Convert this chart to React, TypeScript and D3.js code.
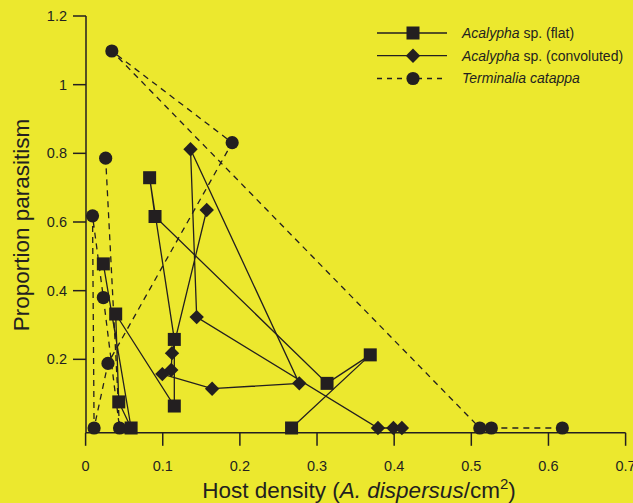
import React from "react";
import * as d3 from "d3";

// Acalypha sp. (flat) – squares, connected in this order
const flatX = [0.267, 0.369, 0.313, 0.090, 0.083, 0.115, 0.115, 0.039, 0.043, 0.059, 0.023];
const flatY = [0.0, 0.213, 0.130, 0.616, 0.729, 0.258, 0.064, 0.332, 0.076, 0.0, 0.478];

// Acalypha sp. (convoluted) – diamonds
const convX = [0.157, 0.112, 0.111, 0.0995, 0.164, 0.277, 0.136, 0.144, 0.379, 0.399, 0.410];
const convY = [0.635, 0.218, 0.169, 0.157, 0.1145, 0.130, 0.812, 0.323, 0.0, 0.0, 0.0];

// Terminalia catappa – circles, dashed
const termX = [0.618, 0.526, 0.511, 0.034, 0.190, 0.029, 0.011, 0.009, 0.023, 0.044, 0.026];
const termY = [0.0, 0.0, 0.0, 1.098, 0.831, 0.188, 0.0, 0.618, 0.380, 0.0, 0.786];

const xTicks = [0, 0.1, 0.2, 0.3, 0.4, 0.5, 0.6, 0.7];
const yTicks = [0.2, 0.4, 0.6, 0.8, 1.0, 1.2];

const W = 633;
const H = 503;
const BG = "#ece82e";
const INK = "#231f20";
const FONT = "'Liberation Sans', Arial, Helvetica, sans-serif";

const x = d3.scaleLinear().domain([0, 0.7]).range([85.6, 625.6]);
const y = d3.scaleLinear().domain([0, 1.2]).range([428, 16]);

const AXIS_Y = 432.8;
const AXIS_X = 86;

function pts(xs: number[], ys: number[]): [number, number][] {
  return xs.map((v, i) => [v, ys[i]] as [number, number]);
}

const line = d3
  .line<[number, number]>()
  .x((d) => x(d[0]))
  .y((d) => y(d[1]));

function Square({ cx, cy, s = 13 }: { cx: number; cy: number; s?: number }) {
  return <rect x={cx - s / 2} y={cy - s / 2} width={s} height={s} fill={INK} />;
}
function Diamond({ cx, cy, r = 7.2 }: { cx: number; cy: number; r?: number }) {
  return (
    <path
      d={`M${cx},${cy - r}L${cx + r},${cy}L${cx},${cy + r}L${cx - r},${cy}Z`}
      fill={INK}
    />
  );
}
function Dot({ cx, cy, r = 6.6 }: { cx: number; cy: number; r?: number }) {
  return <circle cx={cx} cy={cy} r={r} fill={INK} />;
}

export default function App() {
  const flat = pts(flatX, flatY);
  const conv = pts(convX, convY);
  const term = pts(termX, termY);

  const legendRows = [
    { y: 33, italic: "Acalypha", rest: " sp. (flat)", kind: "sq", dash: false },
    { y: 55.7, italic: "Acalypha", rest: " sp. (convoluted)", kind: "di", dash: false },
    { y: 78.5, italic: "Terminalia catappa", rest: "", kind: "ci", dash: true },
  ];

  return (
    <svg
      width={W}
      height={H}
      style={{ position: "absolute", left: 0, top: 0, display: "block" }}
      fontFamily={FONT}
    >
      <rect x={0} y={0} width={W} height={H} fill={BG} />

      {/* axes */}
      <g stroke={INK} strokeWidth={1.5} fill="none">
        <line x1={AXIS_X} y1={16} x2={AXIS_X} y2={AXIS_Y} />
        <line x1={x(0)} y1={AXIS_Y} x2={x(0.7)} y2={AXIS_Y} />
        {xTicks.map((t) => (
          <line key={"xt" + t} x1={x(t)} y1={AXIS_Y} x2={x(t)} y2={AXIS_Y + 13} />
        ))}
        {yTicks.map((t) => (
          <line key={"yt" + t} x1={AXIS_X - 13} y1={y(t)} x2={AXIS_X} y2={y(t)} />
        ))}
      </g>
      <g fill={INK} fontSize={14.5}>
        {xTicks.map((t) => (
          <text key={"xl" + t} x={x(t)} y={471} textAnchor="middle">
            {d3.format("")(t)}
          </text>
        ))}
        {yTicks.map((t) => (
          <text key={"yl" + t} x={67} y={y(t) + 5} textAnchor="end">
            {d3.format("")(t)}
          </text>
        ))}
      </g>

      {/* axis titles */}
      <text
        transform="translate(29,225) rotate(-90)"
        textAnchor="middle"
        fontSize={22.5}
        fill={INK}
      >
        Proportion parasitism
      </text>
      <text x={359} y={498} textAnchor="middle" fontSize={22.5} fill={INK}>
        Host density (<tspan fontStyle="italic">A. dispersus</tspan>/cm
        <tspan fontSize={15} dy={-9}>2</tspan>
        <tspan dy={9}>)</tspan>
      </text>

      {/* series lines */}
      <path d={line(term) || ""} fill="none" stroke={INK} strokeWidth={1.3} strokeDasharray="6,5" />
      <path d={line(flat) || ""} fill="none" stroke={INK} strokeWidth={1.3} />
      <path d={line(conv) || ""} fill="none" stroke={INK} strokeWidth={1.3} />

      {/* markers */}
      {term.map((d, i) => (
        <Dot key={"c" + i} cx={x(d[0])} cy={y(d[1])} />
      ))}
      {flat.map((d, i) => (
        <Square key={"s" + i} cx={x(d[0])} cy={y(d[1])} />
      ))}
      {conv.map((d, i) => (
        <Diamond key={"d" + i} cx={x(d[0])} cy={y(d[1])} />
      ))}

      {/* legend */}
      {legendRows.map((r) => (
        <g key={r.italic + r.rest}>
          <line
            x1={377}
            y1={r.y}
            x2={447}
            y2={r.y}
            stroke={INK}
            strokeWidth={1.3}
            strokeDasharray={r.dash ? "5,5" : undefined}
          />
          {r.kind === "sq" && <Square cx={413} cy={r.y} />}
          {r.kind === "di" && <Diamond cx={413} cy={r.y} />}
          {r.kind === "ci" && <Dot cx={413} cy={r.y} />}
          <text x={462} y={r.y + 4.8} fontSize={14} fill={INK}>
            <tspan fontStyle="italic">{r.italic}</tspan>
            {r.rest}
          </text>
        </g>
      ))}
    </svg>
  );
}
